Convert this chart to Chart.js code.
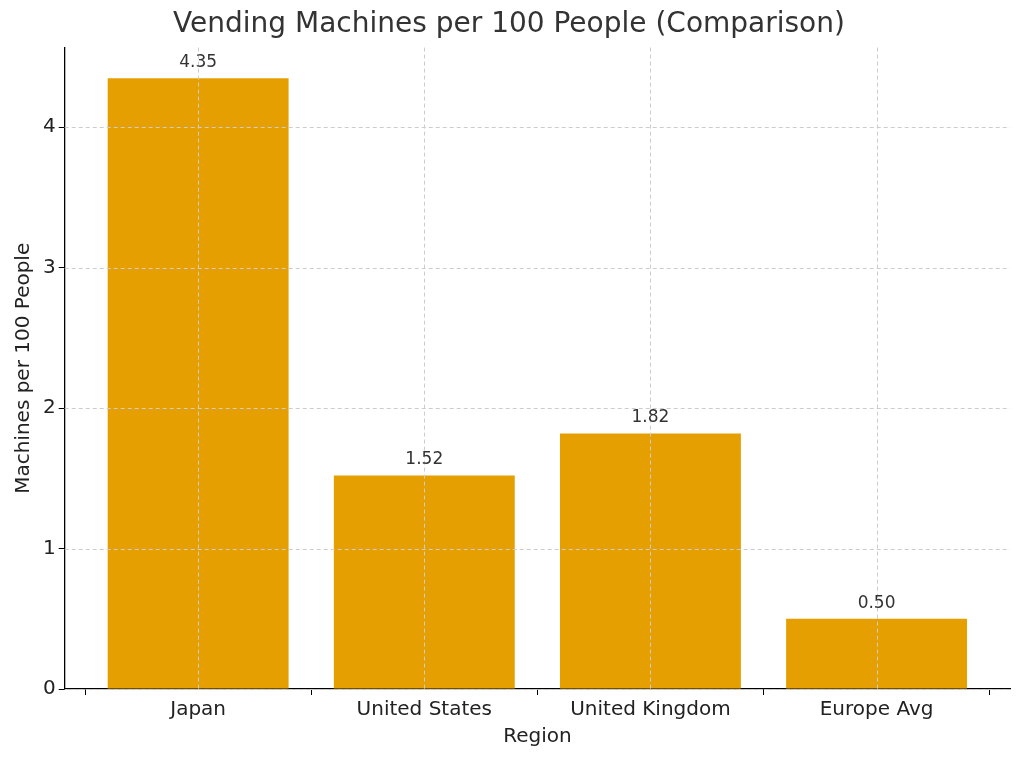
<!DOCTYPE html>
<html><head><meta charset="utf-8">
<script src="https://cdn.jsdelivr.net/npm/chart.js@4"></script>
<style>html,body{margin:0;background:#fff}#w{width:1024px;height:765px}</style>
</head><body><div id="w"><canvas id="c"></canvas></div>
<script>
const categories = ["Japan","United States","United Kingdom","Europe Avg"];
const values = [4.35,1.52,1.82,0.50];
const yTicks = [0,1,2,3,4];
const F = "'DejaVu Sans', sans-serif";
const overlay = {
  id:'overlay',
  afterDatasetsDraw(chart){
    const {ctx, chartArea:a, scales:{x,y}} = chart;
    ctx.save();
    ctx.strokeStyle='#cccccc'; ctx.lineWidth=1; ctx.setLineDash([4,3]);
    categories.forEach((c,i)=>{const px=Math.round(x.getPixelForValue(i))+0.5;ctx.beginPath();ctx.moveTo(px,a.top);ctx.lineTo(px,a.bottom);ctx.stroke();});
    yTicks.forEach(v=>{const py=Math.round(y.getPixelForValue(v))+0.5;ctx.beginPath();ctx.moveTo(a.left,py);ctx.lineTo(a.right,py);ctx.stroke();});
    ctx.setLineDash([]);
    ctx.fillStyle='#333'; ctx.font='17px '+F; ctx.textAlign='center'; ctx.textBaseline='bottom';
    chart.getDatasetMeta(0).data.forEach((b,i)=>ctx.fillText(values[i].toFixed(2), b.x, b.y-7));
    ctx.restore();
  }
};
new Chart(document.getElementById('c'),{
  type:'bar',
  data:{datasets:[{data:values.map((v,i)=>({x:i,y:v})),backgroundColor:'#e69f00',barPercentage:0.8,categoryPercentage:1}]},
  options:{responsive:true,maintainAspectRatio:false,animation:false,
    layout:{padding:{left:8,right:14,top:0,bottom:12}},
    plugins:{legend:{display:false},tooltip:{enabled:false},
      title:{display:true,text:'Vending Machines per 100 People (Comparison)',color:'#333',font:{family:F,size:28,weight:'normal'},padding:{top:8,bottom:6}}},
    scales:{
      x:{type:'linear',min:-0.59,max:3.59,offset:false,grid:{color:'rgba(0,0,0,0)',tickColor:'#000',tickLength:6},border:{color:'#000',width:1.3},
        afterBuildTicks(s){s.ticks=categories.map((c,i)=>({value:i}));},
        ticks:{color:'#222',font:{family:F,size:20},callback:v=>categories[v]},
        title:{display:true,text:'Region',color:'#222',font:{family:F,size:20},padding:{top:0}}},
      y:{min:0,max:4.5675,grid:{color:'rgba(0,0,0,0)',tickColor:'#000',tickLength:6},border:{color:'#000',width:1.3},
        afterBuildTicks(s){s.ticks=yTicks.map(v=>({value:v}));},
        ticks:{color:'#222',font:{family:F,size:20},callback:v=>String(v)},
        title:{display:true,text:'Machines per 100 People',color:'#222',font:{family:F,size:20},padding:{bottom:4}}}
    }},
  plugins:[overlay]
});
</script></body></html>
